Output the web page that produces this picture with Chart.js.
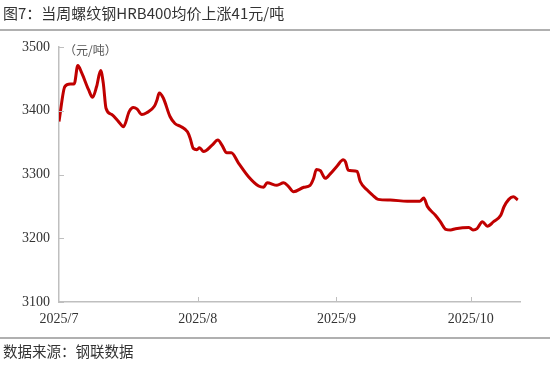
<!DOCTYPE html>
<html>
<head>
<meta charset="utf-8">
<script src="https://cdn.jsdelivr.net/npm/chart.js@4.4.1/dist/chart.umd.min.js"></script>
<style>
  html, body { margin: 0; padding: 0; background: #fff; }
  #wrap { position: relative; width: 550px; height: 367px; overflow: hidden; }
  #title { position: absolute; left: 3px; top: 2px; font: 15px "Noto Sans CJK SC", sans-serif; color: #333; white-space: nowrap; }
  #source { position: absolute; left: 3px; top: 340px; font: 14.5px "Noto Sans CJK SC", sans-serif; color: #333; white-space: nowrap; }
  .rule { position: absolute; left: 0; width: 550px; height: 1.5px; background: #b0b0b0; }
  #unit { position: absolute; left: 64px; top: 41px; font: 12px "Noto Sans CJK SC", sans-serif; color: #555; white-space: nowrap; }
  canvas { position: absolute; left: 0; top: 0; }
</style>
</head>
<body>
<div id="wrap">
  <canvas id="priceChart" width="550" height="367"></canvas>
  <div id="title">图7：当周螺纹钢HRB400均价上涨41元/吨</div>
  <div class="rule" style="top:29px"></div>
  <div id="unit">（元/吨）</div>
  <div class="rule" style="top:337px"></div>
  <div id="source">数据来源：钢联数据</div>
</div>
<script>
// 日期: 距 2025/7/1 的天数
var days = [0, 1.3, 2.5, 3.4, 4.2, 5.1, 6.6, 7.5, 8.4, 9.3, 9.9, 10.5, 11.8, 13.3, 14.4, 15.7, 16.6, 17.4, 18.5, 19.6,
    21.3, 21.9, 22.4, 23.3, 24.8, 25.9, 27.3, 28.7, 29.3, 30.0, 30.8, 31.4, 32.3, 34.2, 35.5, 36.4, 37.5, 38.5, 40.1,
    42.3, 44.6, 45.7, 46.5, 48.7, 50.2, 51.3, 52.4, 54.7, 56.1, 56.9, 57.5, 58.4, 59.5, 60.6, 62.1, 63.5, 64.0, 64.6,
    65.5, 66.6, 67.3, 68.8, 70.0, 71.3, 74.0, 77.8, 80.6, 81.5, 82.3, 84.1, 85.2, 86.4, 87.5, 88.6, 91.6, 92.5, 93.4,
    94.6, 95.7, 97.1, 98.7, 99.4, 100.5, 101.5, 102.5];
// 螺纹钢HRB400均价 (元/吨)
var prices = [3383, 3438, 3442, 3442, 3471, 3459, 3433, 3421, 3438, 3463, 3443, 3404, 3394, 3383, 3375, 3399, 3405, 3403, 3394, 3397,
    3407, 3417, 3428, 3420, 3391, 3380, 3375, 3367, 3357, 3341, 3339, 3342, 3336, 3346, 3354, 3346, 3334, 3334, 3318,
    3297, 3282, 3280, 3287, 3283, 3287, 3281, 3273, 3280, 3283, 3294, 3308, 3306, 3294, 3301, 3313, 3323, 3320, 3307,
    3306, 3305, 3289, 3276, 3268, 3261, 3260, 3258, 3258, 3263, 3250, 3236, 3226, 3214, 3213, 3215, 3217, 3213, 3215,
    3226, 3219, 3226, 3236, 3249, 3261, 3265, 3260];
// 横轴刻度
var monthStarts = [0, 31, 62, 92];
var monthLabels = ['2025/7', '2025/8', '2025/9', '2025/10'];

var points = days.map(function (d, i) { return { x: d, y: prices[i] }; });

var tickFont = { family: "'Liberation Serif', 'Times New Roman', serif", size: 14 };

// 刻度线画在坐标轴内侧
var innerTicks = {
    id: 'innerTicks',
    afterDraw: function (chart) {
        var ctx = chart.ctx;
        var xs = chart.scales.x, ys = chart.scales.y;
        ctx.save();
        ctx.strokeStyle = '#bfbfbf';
        ctx.lineWidth = 1;
        ctx.beginPath();
        xs.ticks.forEach(function (t) {
            if (t.value === 0) return;
            var px = Math.round(xs.getPixelForValue(t.value)) + 0.5;
            ctx.moveTo(px, ys.bottom);
            ctx.lineTo(px, ys.bottom - 5);
        });
        ys.ticks.forEach(function (t) {
            var py = Math.round(ys.getPixelForValue(t.value)) + 0.5;
            ctx.moveTo(xs.left, py);
            ctx.lineTo(xs.left + 5, py);
        });
        ctx.stroke();
        ctx.restore();
    }
};

var ctx = document.getElementById('priceChart').getContext('2d');
var priceChart = new Chart(ctx, {
    type: 'line',
    data: {
        datasets: [{
            label: '螺纹钢HRB400均价',
            data: points,
            borderColor: '#c00000',
            borderWidth: 3,
            pointRadius: 0,
            fill: false,
            cubicInterpolationMode: 'monotone'
        }]
    },
    options: {
        responsive: false,
        animation: false,
        layout: { padding: { top: 47, right: 30, bottom: 0, left: 0 } },
        plugins: {
            legend: { display: false },
            tooltip: { enabled: false }
        },
        scales: {
            x: {
                type: 'linear',
                min: 0,
                max: 103,
                afterBuildTicks: function (scale) {
                    scale.ticks = monthStarts.map(function (v) { return { value: v }; });
                },
                afterFit: function (scale) { scale.height = 65; },
                grid: { display: false, drawTicks: false },
                border: { color: '#bfbfbf', width: 1.5 },
                ticks: {
                    padding: 9,
                    maxRotation: 0,
                    autoSkip: false,
                    color: '#333',
                    font: tickFont,
                    callback: function (value) {
                        var i = monthStarts.indexOf(value);
                        return i >= 0 ? monthLabels[i] : '';
                    }
                }
            },
            y: {
                min: 3100,
                max: 3500,
                afterFit: function (scale) { scale.width = 59; },
                grid: { display: false, drawTicks: false },
                border: { color: '#bfbfbf', width: 1.5 },
                ticks: {
                    stepSize: 100,
                    padding: 9,
                    color: '#333',
                    font: tickFont,
                    callback: function (value) { return String(value); }
                }
            }
        }
    },
    plugins: [innerTicks]
});
</script>
</body>
</html>
